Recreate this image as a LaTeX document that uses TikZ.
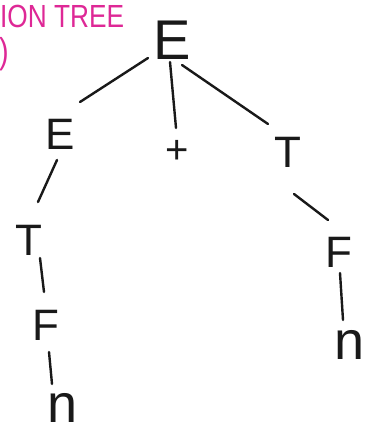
\documentclass[tikz,border=0pt]{standalone}
\usepackage{fontspec}
\setmainfont{Liberation Sans}
\definecolor{pinkink}{RGB}{222,40,150}
\definecolor{ink}{RGB}{25,25,25}
\begin{document}
\begin{tikzpicture}[x=1pt,y=-1pt,
  sym/.style={inner sep=0pt, text=ink, font=\fontsize{44}{44}\selectfont},
  big/.style={sym, font=\fontsize{56}{56}\selectfont},
  edge/.style={draw=ink, line width=2.4pt, line cap=round}]
\useasboundingbox[fill=white] (0,0) rectangle (370,435);
\node[anchor=west, inner sep=0pt, text=pinkink, font=\fontsize{32}{32}\selectfont, xscale=0.82] (title) at (0,16) {ION TREE};
\node[text=pinkink, inner sep=0pt, font=\fontsize{36}{36}\selectfont, xscale=0.8] (paren) at (4,54) {)};
\node[big] (E0) at (172,40) {E};
\node[sym] (E1) at (60,134) {E};
\node[sym, font=\fontsize{40}{40}\selectfont] (plus) at (177,152) {+};
\node[sym] (T2) at (288,152) {T};
\node[sym] (T1) at (29,240) {T};
\node[sym] (F1) at (46,325) {F};
\node[sym, font=\fontsize{54}{54}\selectfont] (n1) at (63,408) {n};
\node[sym] (F2) at (339,252) {F};
\node[sym, font=\fontsize{54}{54}\selectfont] (n2) at (350,345) {n};
\coordinate (a1) at (148,58); \coordinate (a2) at (80,102);
\coordinate (b1) at (170,62); \coordinate (b2) at (176,128);
\coordinate (c1) at (182,65); \coordinate (c2) at (268,124);
\coordinate (d1) at (57,160); \coordinate (d2) at (38,202);
\coordinate (e1) at (40,258); \coordinate (e2) at (44,292);
\coordinate (f1) at (49,352); \coordinate (f2) at (52,384);
\coordinate (g1) at (294,194); \coordinate (g2) at (328,220);
\coordinate (h1) at (340,273); \coordinate (h2) at (343,320);
\draw[edge] (a1) -- (a2);
\draw[edge] (b1) -- (b2);
\draw[edge] (c1) -- (c2);
\draw[edge] (d1) -- (d2);
\draw[edge] (e1) -- (e2);
\draw[edge] (f1) -- (f2);
\draw[edge] (g1) -- (g2);
\draw[edge] (h1) -- (h2);
\end{tikzpicture}
\end{document}
